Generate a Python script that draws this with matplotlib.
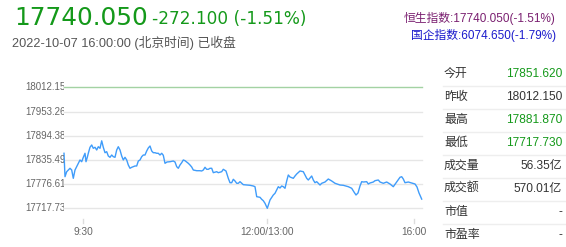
import matplotlib
matplotlib.use("Agg")
import matplotlib.pyplot as plt
from matplotlib.transforms import Bbox, TransformedBbox

# intraday series: position along the session axis and index level
pos = [0, 1, 2.7, 4.3, 6, 7.7, 9.3, 11, 12.7, 14.3, 16, 17.7, 19.3, 21, 22, 23.3, 24.3, 26, 27.7,
       29.3, 31, 32.7, 34.3, 36, 37.7, 39.3, 41, 42.7, 44.3, 46, 47.7, 49.3, 51, 52.7, 54.3, 56,
       57.7, 59.3, 61, 62.7, 64.3, 66, 67.7, 69.3, 71, 72.7, 74.3, 76, 77.7, 79.3, 81, 82.7, 84.3,
       86, 87.7, 89.3, 91, 92.7, 94.3, 96, 97.7, 99.3, 101, 103, 106, 109.3, 111, 112.7, 114.3,
       116, 117.7, 119.3, 121, 122.7, 124.3, 126, 127.7, 129.3, 132.7, 136, 137.7, 139.3, 141,
       142.7, 144.3, 146, 147.7, 149.3, 152.7, 154.3, 157.7, 159.3, 162, 164.3, 166, 167.7, 169.3,
       171, 172.7, 174.3, 176, 179.3, 182.7, 186, 189.3, 191, 192.7, 196, 197.7, 199.3, 201, 203.3,
       206, 209.3, 211, 212.7, 214.3, 216, 217.7, 219.3, 221, 222.7, 224.3, 226, 229.3, 231, 232.7,
       236, 239.3, 241, 242.7, 244.3, 247.7, 249.3, 251, 252.7, 254.3, 256, 257.7, 261, 264.3,
       267.7, 271, 276, 279.3, 284.3, 287.7, 290, 292, 294, 296, 297.7, 299.3, 302.7, 304.3, 306,
       309.3, 311, 314.3, 316, 319.3, 322.7, 326, 329.3, 332.7, 336, 337.7, 339.3, 341, 344.3,
       347.7, 351, 353, 355, 357.7]
price = [17851.6, 17794.6, 17806.8, 17810.9, 17815.1, 17810.9, 17790.7, 17810.9, 17819.0, 17827.2,
         17835.3, 17831.1, 17841.8, 17851.6, 17831.1, 17841.8, 17851.6, 17866.2, 17871.8, 17863.7,
         17866.2, 17859.6, 17867.6, 17863.7, 17881.9, 17866.2, 17853.0, 17855.5, 17845.0, 17841.8,
         17847.4, 17843.3, 17841.8, 17859.6, 17867.6, 17859.6, 17845.0, 17835.3, 17841.8, 17835.3,
         17823.1, 17815.1, 17817.5, 17819.0, 17820.7, 17820.7, 17832.8, 17835.3, 17843.3, 17847.4,
         17847.4, 17857.2, 17864.5, 17869.3, 17857.2, 17853.0, 17853.0, 17851.6, 17851.6, 17847.4,
         17851.6, 17846.7, 17827.2, 17830.4, 17831.1, 17832.8, 17830.4, 17819.0, 17815.1, 17823.1,
         17828.7, 17835.3, 17833.6, 17830.4, 17827.2, 17823.1, 17818.2, 17810.9, 17809.2, 17809.2,
         17808.5, 17810.9, 17817.5, 17812.6, 17812.6, 17815.1, 17815.1, 17804.4, 17806.8, 17804.4,
         17806.8, 17812.6, 17808.5, 17790.7, 17780.0, 17780.0, 17788.3, 17784.2, 17778.6, 17778.6,
         17782.5, 17775.2, 17774.4, 17773.7, 17772.0, 17770.3, 17746.0, 17744.5, 17739.6, 17736.2,
         17729.9, 17717.7, 17737.9, 17750.1, 17754.2, 17762.3, 17770.3, 17767.1, 17772.0, 17770.3,
         17766.4, 17784.2, 17798.8, 17793.9, 17790.7, 17796.3, 17801.2, 17808.5, 17806.8, 17798.8,
         17790.7, 17786.6, 17796.3, 17786.6, 17780.0, 17782.5, 17778.6, 17774.4, 17778.6, 17781.7,
         17789.0, 17784.2, 17778.6, 17774.4, 17773.7, 17770.3, 17766.4, 17757.4, 17750.1, 17755.0,
         17772.0, 17782.5, 17781.7, 17782.5, 17776.9, 17779.3, 17781.7, 17784.9, 17786.6, 17781.7,
         17778.6, 17781.7, 17776.9, 17770.3, 17781.7, 17793.2, 17794.6, 17789.0, 17780.0, 17781.7,
         17779.3, 17776.9, 17769.6, 17755.0, 17740.1]

prev_close = 18012.15
day_low = 17717.73
y_ticks = [18012.15, 17953.266, 17894.382, 17835.498, 17776.614, 17717.73]
y_labels = ["18012.150", "17953.266", "17894.382", "17835.498", "17776.614", "17717.730"]
x_ticks = [19.3, 203.3, 350]
x_labels = ["9:30", "12:00/13:00", "16:00"]

table_labels = ["今开", "昨收", "最高", "最低", "成交量", "成交额", "市值", "市盈率"]
table_values = ["17851.620", "18012.150", "17881.870", "17717.730", "56.35亿", "570.01亿", "-", "-"]

GREEN = "#14991a"
DARK = "#333333"
table_colors = [GREEN, DARK, GREEN, GREEN, DARK, DARK, DARK, DARK]

W, H = 566, 247
LAT = ["Liberation Sans", "Noto Sans CJK SC"]


def main():
    fig = plt.figure(figsize=(W / 100, H / 100), dpi=100)

    # chart area in pixel terms: x 64..422, y 87.3..208.3
    ax = fig.add_axes([64 / W, (H - 208.3) / H, 358 / W, 121 / H])
    ax.set_xlim(0, 358)
    ax.set_ylim(day_low, prev_close)
    for s in ax.spines.values():
        s.set_visible(False)
    ax.set_xticks([])
    ax.set_yticks([])

    for v in y_ticks[1:]:
        ax.axhline(v, color="#e6e6e6", lw=1, clip_on=False, zorder=1)
    ax.axhline(prev_close, color="#a3d2a3", lw=1, clip_on=False, zorder=1)

    ax.plot(pos, price, color="#3f9cfa", lw=1.0, zorder=3, clip_on=False)

    clip = TransformedBbox(Bbox([[-0.5, -0.3], [0, 1.3]]), ax.transAxes)
    for v, lab in zip(y_ticks, y_labels):
        t = ax.text(-39 / 358, v, lab, transform=ax.get_yaxis_transform(), ha="left", va="center",
                    fontsize=7.0, color="#666666", family=LAT, clip_on=True)
        t.set_clip_box(clip)

    xt = ax.get_xaxis_transform()
    for x, lab in zip(x_ticks, x_labels):
        ax.plot([x, x], [-11 / 121, -15 / 121], transform=xt, color="#dddddd", lw=1, clip_on=False)
        ax.text(x, -23.5 / 121, lab, transform=xt, ha="center", va="center",
                fontsize=7.3, color="#666666", family=LAT)

    # overlay in pixel coordinates for the header and the side table
    ov = fig.add_axes([0, 0, 1, 1])
    ov.set_xlim(0, W)
    ov.set_ylim(H, 0)
    ov.axis("off")

    ov.text(14, 25, "17740.050", fontsize=17.8, color=GREEN, family="DejaVu Sans", va="baseline")
    ov.text(152, 24, "-272.100 (-1.51%)", fontsize=12.2, color=GREEN, family="DejaVu Sans",
            va="baseline")
    ov.text(12, 46.5, "2022-10-07 16:00:00 (北京时间) 已收盘", fontsize=9.2, color="#555555",
            family=LAT, va="baseline")

    ov.text(556, 18, "恒生指数:17740.050(-1.51%)", fontsize=8.5, color="#7a1f70", family=LAT,
            ha="right", va="center")
    ov.text(556, 35, "国企指数:6074.650(-1.79%)", fontsize=8.5, color="#1a1acc", family=LAT,
            ha="right", va="center")

    row_y = 74
    for i, (lab, val, col) in enumerate(zip(table_labels, table_values, table_colors)):
        y = row_y + i * 23
        ov.text(444, y, lab, fontsize=8.6, color=DARK, family=LAT, va="center")
        ov.text(562, y, val, fontsize=8.6, color=col, family=LAT, va="center", ha="right")
        if i < len(table_labels) - 1:
            ov.plot([443, W], [y + 11.8, y + 11.8], color="#eeeeee", lw=1)

    fig.savefig("out.png", dpi=100)
    plt.close(fig)


if __name__ == "__main__":
    main()
